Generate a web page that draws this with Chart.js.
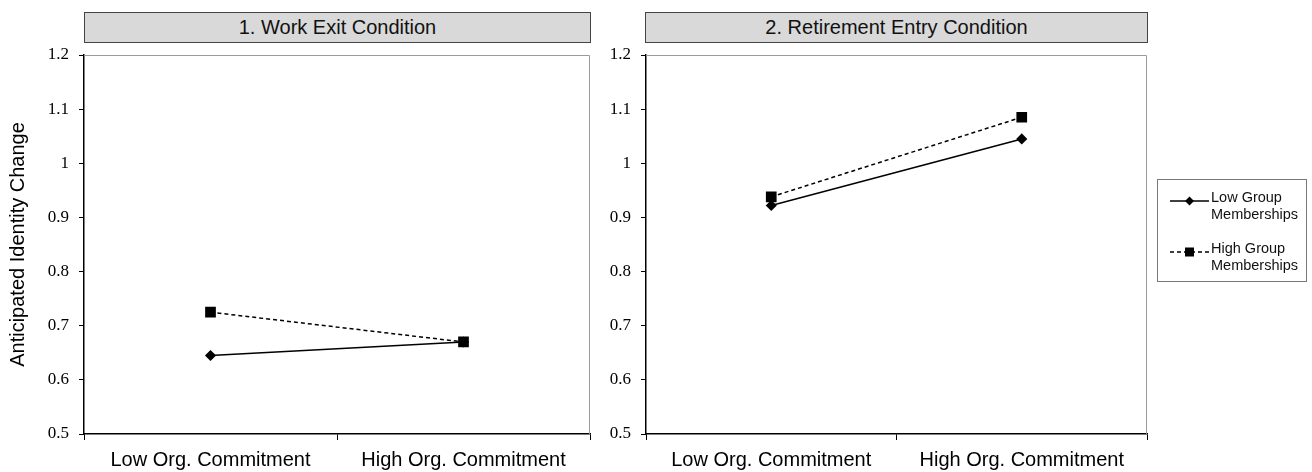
<!DOCTYPE html>
<html lang="en">
<head>
  <meta charset="UTF-8">
  <title>Anticipated Identity Change</title>
  <script src="https://cdn.jsdelivr.net/npm/chart.js"></script>
  <style>
    body { margin: 0; background: white; font-family: "Liberation Sans", Arial, sans-serif; }
    #wrap { position: relative; width: 1312px; height: 472px; overflow: hidden; }
    canvas { position: absolute; top: 0; }
    .head { position: absolute; top: 12px; height: 31px; box-sizing: border-box; background: #d9d9d9;
            border: 1.5px solid #444; text-align: center; font-size: 20px; line-height: 28px; color: #111; }
    #legend { position: absolute; left: 1157px; top: 179px; width: 150px; height: 103px; box-sizing: border-box;
              border: 1px solid #777; font-size: 14.5px; line-height: 16.5px; color: #111; }
    .item { position: absolute; left: 12px; display: flex; }
    .item svg { margin-top: 7px; margin-right: 2px; }
  </style>
</head>
<body>
<div id="wrap">
  <canvas id="exitChart" width="600" height="472" style="left:0px"></canvas>
  <canvas id="entryChart" width="600" height="472" style="left:562px"></canvas>
  <div class="head" style="left:84px; width:507px;">1. Work Exit Condition</div>
  <div class="head" style="left:645px; width:503px;">2. Retirement Entry Condition</div>
  <div id="legend"></div>
</div>

<script>
  // categories and tick labels
  const categories = ["Low Org. Commitment", "High Org. Commitment"];
  const yTickLabels = ["0.5", "0.6", "0.7", "0.8", "0.9", "1", "1.1", "1.2"];
  const seriesNames = ["Low Group Memberships", "High Group Memberships"];

  // 1. Work Exit Condition
  const exitLow = [0.645, 0.670];
  const exitHigh = [0.725, 0.670];

  // 2. Retirement Entry Condition
  const entryLow = [0.922, 1.045];
  const entryHigh = [0.938, 1.085];

  // gray frame on top and right of the plot
  const framePlugin = {
    id: "frame",
    afterDraw(chart) {
      const a = chart.chartArea, c = chart.ctx;
      c.save();
      c.strokeStyle = "#9a9a9a";
      c.lineWidth = 1;
      c.beginPath();
      c.moveTo(a.left, a.top + 0.5);
      c.lineTo(a.right - 0.5, a.top + 0.5);
      c.lineTo(a.right - 0.5, a.bottom);
      c.stroke();
      c.restore();
    }
  };

  function makePanel(id, lowVals, highVals, showTitle, rightPad) {
    const ctx = document.getElementById(id).getContext("2d");
    return new Chart(ctx, {
      type: "line",
      data: {
        labels: categories,
        datasets: [{
          label: seriesNames[0],
          data: lowVals,
          borderColor: "#000",
          backgroundColor: "#000",
          borderWidth: 1.5,
          pointStyle: "rectRot",
          pointRadius: 4.5,
          tension: 0
        }, {
          label: seriesNames[1],
          data: highVals,
          borderColor: "#000",
          backgroundColor: "#000",
          borderWidth: 1.5,
          borderDash: [4, 3],
          pointStyle: "rect",
          pointRadius: 6.5,
          tension: 0
        }]
      },
      options: {
        responsive: false,
        animation: false,
        layout: { padding: { top: 55, right: rightPad, left: 0, bottom: 0 } },
        plugins: { legend: { display: false }, tooltip: { enabled: false } },
        scales: {
          x: {
            type: "category",
            offset: true,
            afterFit: s => { s.height = 38; },
            grid: { offset: true, drawOnChartArea: false, color: "#000", tickLength: 6 },
            border: { color: "#000", width: 1.5 },
            ticks: { color: "#000", padding: 8, maxRotation: 0, autoSkip: false,
                     font: { family: "Liberation Sans", size: 20 } }
          },
          y: {
            min: 0.5,
            max: 1.2,
            afterFit: s => { s.width = 84; },
            grid: { drawOnChartArea: false, color: "#000", tickLength: 5 },
            border: { color: "#000", width: 1.5 },
            ticks: {
              stepSize: 0.1,
              color: "#000",
              padding: 10,
              font: { family: "Liberation Serif", size: 17 },
              callback: (v, i) => yTickLabels[i]
            },
            title: {
              display: showTitle,
              text: "Anticipated Identity Change",
              color: "#000",
              padding: { top: 6, bottom: 0 },
              font: { family: "Liberation Sans", size: 20 }
            }
          }
        }
      },
      plugins: [framePlugin]
    });
  }

  makePanel("exitChart", exitLow, exitHigh, true, 10);
  makePanel("entryChart", entryLow, entryHigh, false, 15);

  // legend
  const legend = document.getElementById("legend");
  const tops = [9, 60];
  seriesNames.forEach((name, i) => {
    const dash = i === 1 ? ' stroke-dasharray="4 3"' : "";
    const mark = i === 0
      ? '<polygon points="19.5,0.5 24,5 19.5,9.5 15,5" fill="#000"/>'
      : '<rect x="15" y="0.5" width="9" height="9" fill="#000"/>';
    const words = name.split(" ");
    const txt = words.slice(0, 2).join(" ") + "<br>" + words.slice(2).join(" ");
    const el = document.createElement("div");
    el.className = "item";
    el.style.top = tops[i] + "px";
    el.innerHTML = '<svg width="39" height="10"><line x1="0" y1="5" x2="39" y2="5" stroke="#000" stroke-width="1.5"' +
      dash + '/>' + mark + '</svg><div>' + txt + '</div>';
    legend.appendChild(el);
  });
</script>
</body>
</html>
